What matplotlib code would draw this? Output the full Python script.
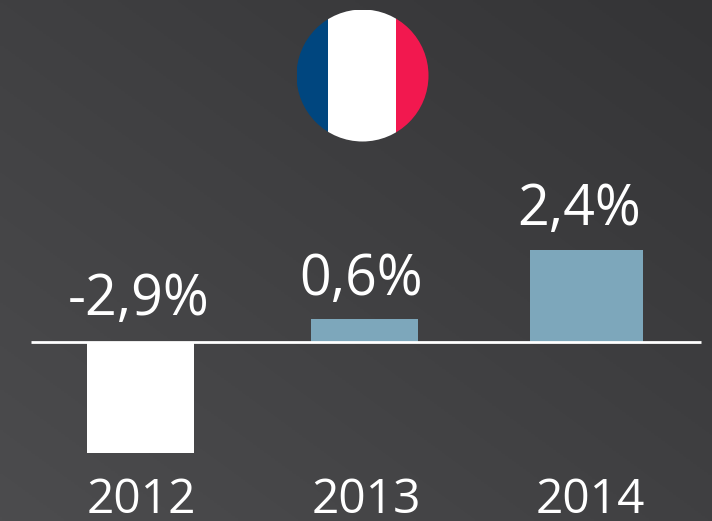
import numpy as np
import matplotlib
matplotlib.use('Agg')
import matplotlib.pyplot as plt
from matplotlib.patches import Circle, Rectangle

years = ['2012', '2013', '2014']
values = [-2.9, 0.6, 2.4]
labels = ['-2,9%', '0,6%', '2,4%']
bar_colors = ['#ffffff', '#7da7bb', '#7da7bb']

plt.rcParams['font.family'] = ['Open Sans', 'DejaVu Sans']

W, H = 712, 521
fig = plt.figure(figsize=(W / 100, H / 100), dpi=100)

# background gradient, lighter at the bottom left, darker top right
bg = fig.add_axes([0, 0, 1, 1])
bg.axis('off')
yy, xx = np.mgrid[0:1:200j, 0:1:200j]
t = (xx + (1 - yy)) / 2
bg.imshow(t, cmap=matplotlib.colors.LinearSegmentedColormap.from_list('bg', ['#4c4c4e', '#343436']),
          extent=[0, 1, 0, 1], aspect='auto', origin='upper', vmin=0, vmax=1)

# pixel scale for x, zero line at y=342
px_per_unit = 38.3
zero_y = 342
ax = fig.add_axes([0, 0, 1, 1])
ax.patch.set_alpha(0)
ax.axis('off')
ax.set_xlim(0, W)
ax.set_ylim(-(H - zero_y) / px_per_unit, zero_y / px_per_unit)

centers = [140.5, 364.5, 586.5]
widths = [107, 107, 113]
ax.bar(centers, values, width=widths, color=bar_colors, linewidth=0, zorder=2)
ax.plot([31, 701], [0, 0], color='white', lw=2, zorder=3, solid_capstyle='butt')

# text placement differs a bit from the bar centres in the original
label_x = [138.5, 361, 579.5]
label_gap = [27, 24, 25]
year_x = [141, 366, 590]
for i in range(3):
    top = max(values[i], 0)
    ax.annotate(labels[i], (label_x[i], top), xytext=(0, label_gap[i]), textcoords='offset pixels',
                ha='center', va='baseline', color='white', fontsize=40)
    ax.text(year_x[i], (zero_y - 513) / px_per_unit, years[i], ha='center', va='baseline',
            color='white', fontsize=34.5)

# flag
flag = fig.add_axes([0, 0, 1, 1])
flag.patch.set_alpha(0)
flag.axis('off')
flag.set_xlim(0, W)
flag.set_ylim(H, 0)
cx, cy, r = 362.5, 75.5, 66
circle = Circle((cx, cy), r, transform=flag.transData, fc='none', ec='none')
flag.add_patch(circle)
for x0, x1, col in [(cx - r, 328, '#00467f'), (328, 396, '#ffffff'), (396, cx + r, '#f2184f')]:
    s = Rectangle((x0, cy - r), x1 - x0, 2 * r, fc=col, ec='none')
    flag.add_patch(s)
    s.set_clip_path(circle)

fig.savefig('out.png', dpi=100)
